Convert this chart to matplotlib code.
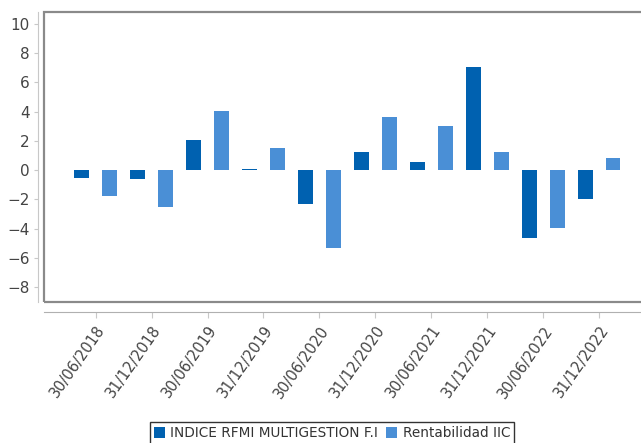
import numpy as np
import matplotlib.pyplot as plt
from matplotlib.patches import Rectangle

dates = ["30/06/2018", "31/12/2018", "30/06/2019", "31/12/2019", "30/06/2020",
         "31/12/2020", "30/06/2021", "31/12/2021", "30/06/2022", "31/12/2022"]
indice = [-0.52, -0.64, 2.05, 0.1, -2.31, 1.26, 0.55, 7.08, -4.61, -1.96]
rentabilidad = [-1.78, -2.53, 4.02, 1.48, -5.34, 3.63, 2.99, 1.23, -3.93, 0.82]

dark = "#0061b0"
light = "#4a8fd6"

fig = plt.figure(figsize=(6.41, 4.43), dpi=100)
ax = fig.add_axes([0.068, 0.318, 0.948, 0.655])

x = np.arange(len(dates))
w = 0.26
ax.bar(x - 0.25, indice, w, color=dark, label="INDICE RFMI MULTIGESTION F.I")
ax.bar(x + 0.25, rentabilidad, w, color=light, label="Rentabilidad IIC")

ax.set_xlim(-0.93, 9.93)
ax.set_ylim(-9.03, 10.82)
ax.set_yticks(np.arange(-8, 11, 2))
ax.set_xticks(x)
ax.set_xticklabels(dates)

# gray frame around the plot area
ax.add_patch(Rectangle((0, 0), 1, 1, transform=ax.transAxes, fill=False,
                       edgecolor="#8a8a8a", lw=1.6, clip_on=False))
for s in ["top", "right"]:
    ax.spines[s].set_visible(False)
ax.spines["left"].set_position(("outward", 4))
ax.spines["bottom"].set_position(("outward", 7))
ax.spines["left"].set_color("#c8c8c8")
ax.spines["bottom"].set_color("#b0b0b0")
ax.tick_params(axis="y", length=3, color="#c8c8c8", labelsize=11, labelcolor="#444444", pad=3)
ax.tick_params(axis="x", length=4, color="#c8c8c8", labelsize=10.5, labelcolor="#444444",
               pad=4, labelrotation=55)
plt.setp(ax.get_xticklabels(), ha="right", rotation_mode="anchor")

leg = fig.legend(loc="center", bbox_to_anchor=(0.518, 0.022), ncol=2, fontsize=9.8,
                 frameon=True, fancybox=False, edgecolor="black", handlelength=0.8,
                 handleheight=0.8, handletextpad=0.4, columnspacing=0.6,
                 borderpad=0.3, borderaxespad=0)
leg.get_frame().set_linewidth(1.0)
for t in leg.get_texts():
    t.set_color("#333333")

fig.savefig("out.png", dpi=100)
